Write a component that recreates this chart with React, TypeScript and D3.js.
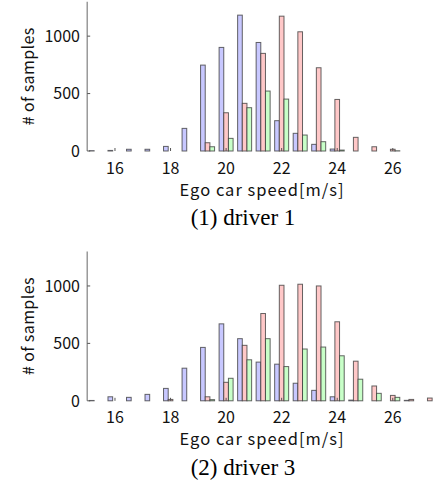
import React from "react";
import * as d3 from "d3";

const binCenters = [15.333, 16, 16.667, 17.333, 18, 18.667, 19.333, 20, 20.667, 21.333, 22, 22.667, 23.333, 24, 24.667, 25.333, 26, 26.667, 27.333];
const seriesNames = ["blue", "red", "green"];
const xTicks = [16, 18, 20, 22, 24, 26];
const yTicks = [0, 500, 1000];

const d1Blue = [3, 5, 15, 15, 40, 197, 748, 902, 1183, 945, 264, 154, 58, 17, 0, 0, 0, 0, 0];
const d1Red = [0, 0, 0, 0, 0, 0, 72, 333, 415, 850, 1174, 1038, 725, 449, 119, 37, 15, 0, 0];
const d1Green = [0, 0, 0, 0, 0, 0, 37, 110, 377, 522, 452, 139, 81, 8, 0, 0, 2, 0, 0];

const d3Blue = [3, 35, 30, 56, 108, 284, 465, 670, 541, 337, 319, 153, 91, 35, 6, 0, 0, 4, 0];
const d3Red = [0, 0, 0, 0, 12, 0, 35, 161, 483, 760, 1006, 1015, 1000, 688, 345, 129, 47, 12, 24];
const d3Green = [0, 0, 0, 0, 0, 0, 10, 196, 357, 541, 298, 451, 468, 392, 188, 65, 30, 0, 0];

const titles = ["(1) driver 1", "(2) driver 3"];

const fills = ["#c8c8ff", "#ffc8c8", "#c8ffc8"];
const sansFont = "'Noto Sans CJK JP', 'Noto Sans', sans-serif";
const serifFont = "'Liberation Serif', 'DejaVu Serif', serif";

function Panel({ top, data, title }: { top: number; data: number[][]; title: string }) {
  const left = 87.2;
  const right = 435;
  const plotTop = top;
  const plotBottom = top + 149.3;
  const x = d3.scaleLinear().domain([15, 27.52]).range([left, right]);
  const y = d3.scaleLinear().domain([0, 1300]).range([plotBottom, plotTop]);
  const groupW = 14;
  const bw = groupW / 3;
  return (
    <g>
      {binCenters.map((c, i) => (
        <g key={i}>
          {seriesNames.map((s, k) => {
            const v = data[k][i];
            const x0 = x(c) - groupW / 2 + k * bw;
            return (
              <rect
                key={s}
                x={x0}
                y={y(v)}
                width={bw}
                height={plotBottom - y(v)}
                fill={fills[k]}
                stroke="#333"
                strokeOpacity={0.75}
                strokeWidth={1}
              />
            );
          })}
        </g>
      ))}
      <line x1={left} x2={left} y1={plotTop} y2={plotBottom} stroke="#8a8a8a" strokeWidth={1.3} />
      {yTicks.map((t) => (
        <g key={t}>
          <line x1={left} x2={left + 3} y1={y(t)} y2={y(t)} stroke="#555" strokeWidth={1} />
          <text x={80} y={y(t)} dy="0.36em" textAnchor="end" fontFamily={sansFont} fontSize={16} fill="#111">
            {t}
          </text>
        </g>
      ))}
      {xTicks.map((t) => (
        <g key={t}>
          <line x1={x(t)} x2={x(t)} y1={plotBottom} y2={plotBottom - 3} stroke="#555" strokeWidth={1} />
          <text x={x(t)} y={plotBottom + 22.5} textAnchor="middle" fontFamily={sansFont} fontSize={16} fill="#111">
            {t}
          </text>
        </g>
      ))}
      <text
        transform={`translate(28,${(plotTop + plotBottom) / 2}) rotate(-90)`}
        textAnchor="middle"
        dy="0.36em"
        fontFamily={sansFont}
        fontSize={16}
        letterSpacing={0.4}
        fill="#111"
      >
        # of samples
      </text>
      <text x={262} y={plotBottom + 44.5} textAnchor="middle" fontFamily={sansFont} fontSize={16.5} letterSpacing={1} fill="#111">
        Ego car speed[m/s]
      </text>
      <text x={243} y={plotBottom + 74} textAnchor="middle" fontFamily={serifFont} fontSize={23} fill="#000">
        {title}
      </text>
    </g>
  );
}

export default function App() {
  return (
    <svg width={437} height={491} style={{ position: "absolute", left: 0, top: 0, background: "#fff" }}>
      <Panel top={1.7} data={[d1Blue, d1Red, d1Green]} title={titles[0]} />
      <Panel top={251.5} data={[d3Blue, d3Red, d3Green]} title={titles[1]} />
    </svg>
  );
}
